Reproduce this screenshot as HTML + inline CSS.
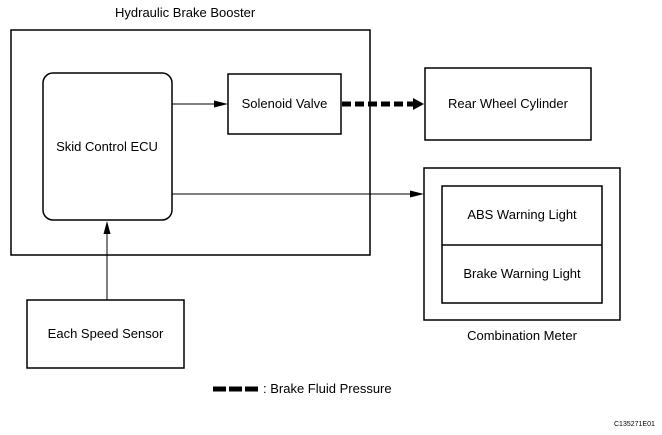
<!DOCTYPE html>
<html><head><meta charset="utf-8"><style>
html,body{margin:0;padding:0;background:#fff;}
svg{display:block;}
text{font-family:"Liberation Sans",Arial,sans-serif;font-size:13px;fill:#000;}
</style></head><body>
<svg width="662" height="435" viewBox="0 0 662 435" xmlns="http://www.w3.org/2000/svg">
<g fill="none" stroke="#000" stroke-width="1.5">
<rect x="11" y="30" width="359" height="225"/>
<rect x="43" y="73" width="129" height="147" rx="10"/>
<rect x="228" y="74" width="113" height="60"/>
<rect x="425" y="68" width="166" height="72"/>
<rect x="424" y="168" width="196" height="152"/>
<rect x="442" y="186" width="160" height="117"/>
<line x1="442" y1="245" x2="602" y2="245"/>
<rect x="27" y="300" width="157" height="68"/>
</g>
<g stroke="#000" stroke-width="1">
<line x1="172" y1="104" x2="220" y2="104"/>
<line x1="172" y1="194" x2="416" y2="194"/>
<line x1="107" y1="300" x2="107" y2="229"/>
</g>
<polygon points="228,104 214,100.5 214,107.5" fill="#000"/>
<polygon points="424,194 410,190.5 410,197.5" fill="#000"/>
<polygon points="107,221 103.5,234 110.5,234" fill="#000"/>
<line x1="342" y1="104" x2="414" y2="104" stroke="#000" stroke-width="5" stroke-dasharray="9,4"/>
<polygon points="424,104 413,98 413,110" fill="#000"/>
<line x1="213" y1="389" x2="258" y2="389" stroke="#000" stroke-width="5" stroke-dasharray="13,3"/>
<text x="115" y="17">Hydraulic Brake Booster</text>
<text x="107" y="151" text-anchor="middle">Skid Control ECU</text>
<text x="284.5" y="108" text-anchor="middle">Solenoid Valve</text>
<text x="508" y="108" text-anchor="middle">Rear Wheel Cylinder</text>
<text x="522" y="219" text-anchor="middle">ABS Warning Light</text>
<text x="522" y="278" text-anchor="middle">Brake Warning Light</text>
<text x="522" y="340" text-anchor="middle">Combination Meter</text>
<text x="105.5" y="338" text-anchor="middle">Each Speed Sensor</text>
<text x="263" y="393">:  Brake Fluid Pressure</text>
<text x="614" y="426" style="font-size:7px">C135271E01</text>
</svg>
</body></html>
